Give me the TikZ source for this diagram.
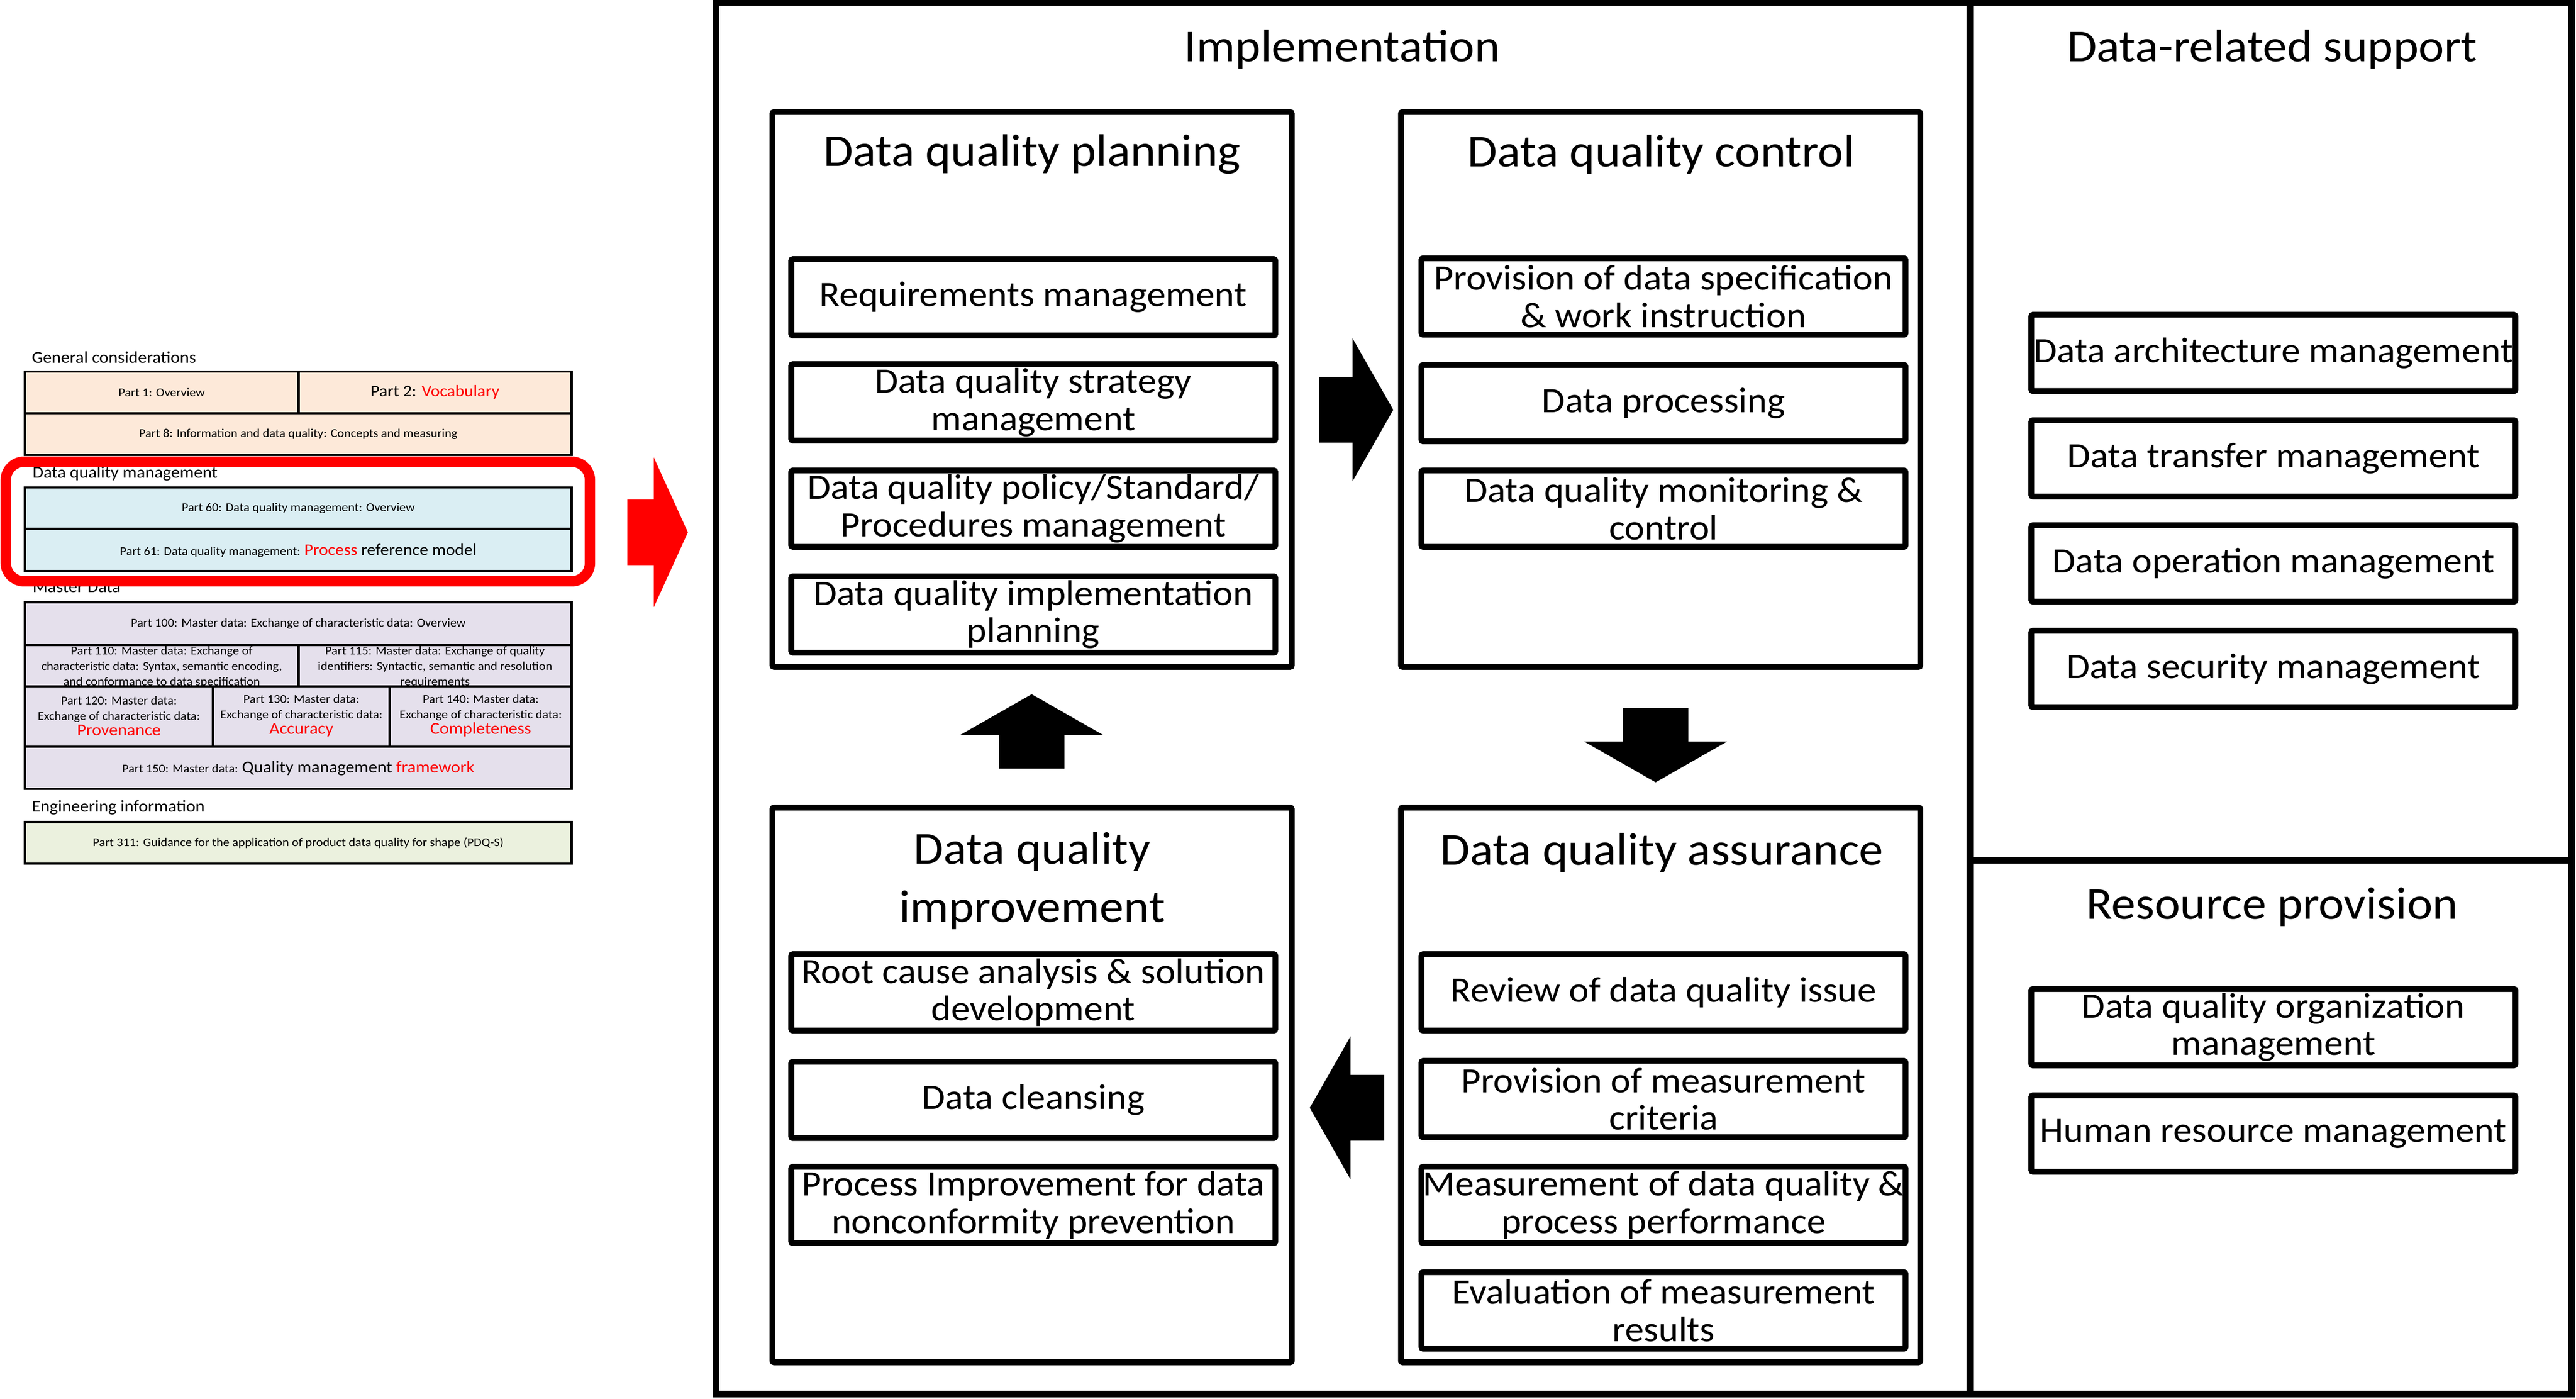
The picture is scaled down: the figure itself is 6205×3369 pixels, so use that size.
\documentclass[tikz,border=0pt]{standalone}
\usepackage{fontspec}
\setmainfont{Carlito}[FakeStretch=1.06]
\usepackage{xcolor}
\usepackage{tikz}
\usetikzlibrary{positioning,calc}
\definecolor{dqred}{RGB}{255,0,0}
\definecolor{genfill}{RGB}{253,233,217}
\definecolor{mgmtfill}{RGB}{218,238,243}
\definecolor{masterfill}{RGB}{229,224,236}
\definecolor{engfill}{RGB}{235,241,222}
\tikzset{
    panel/.style={
        rectangle,
        draw,
        line width=3.5pt,
        rounded corners=1pt,
        minimum width=312.75pt,
        minimum height=334pt
    },
    task/.style={
        rectangle,
        draw,
        line width=3.5pt,
        rounded corners=1pt,
        minimum width=291.5pt,
        minimum height=46pt,
        inner sep=0pt,
        align=center,
        font=\fontsize{21.5}{22.5}\selectfont
    },
    heading/.style={inner sep=0pt, align=center, font=\fontsize{27.5}{35}\selectfont},
    partbox/.style={line width=1.4pt},
    parttext/.style={inner sep=0pt, align=center, font=\fontsize{7.2}{9.3}\selectfont},
    grouplabel/.style={anchor=base west, inner sep=0pt, font=\fontsize{10}{12}\selectfont},
    pics/blockarrow/.style n args={4}{code={
        \fill[pic actions] (0,-#2) -- (#1,-#2) -- (#1,-#3) -- (#4,0) -- (#1,#3) -- (#1,#2) -- (0,#2) -- cycle;
    }}
}
% cells of the overview on the left: x1/y1/x2/y2/fill
\def\partcells{60/895/719/995/genfill, 719/895/1377/995/genfill, 60/995/1377/1096/genfill,
    60/1174/1377/1274/mgmtfill, 60/1274/1377/1375/mgmtfill,
    60/1450/1377/1554/masterfill, 60/1554/719/1653/masterfill, 719/1554/1377/1653/masterfill,
    60/1653/513/1798/masterfill, 513/1653/939/1798/masterfill, 939/1653/1377/1798/masterfill,
    60/1798/1377/1900/masterfill, 60/1980/1377/2080/engfill}

\begin{document}
\begin{tikzpicture}[x=0.25pt, y=-0.25pt]
    \useasboundingbox (0,0) rectangle (6205,3369);

    % overview of the parts
    \foreach \xa/\ya/\xb/\yb/\col in \partcells
        \fill[\col] (\xa,\ya) rectangle (\xb,\yb);

    \node[grouplabel] (gen) at (76,874) {General considerations};
    \node[parttext] (p1) at (389.5,945) {Part 1: Overview};
    \node[parttext, font=\fontsize{9.8}{11}\selectfont] (p2) at (1048,945) {Part 2: \textcolor{dqred}{Vocabulary}};
    \node[parttext] (p8) at (718.5,1045.5) {Part 8: Information and data quality: Concepts and measuring};
    \node[grouplabel] (dqm) at (78,1151) {Data quality management};
    \node[parttext] (p60) at (718.5,1224) {Part 60: Data quality management: Overview};
    \node[parttext] (p61) at (718.5,1326) {Part 61: Data quality management: {\fontsize{9.8}{11}\selectfont\textcolor{dqred}{Process} reference model}};
    \node[grouplabel] (mast) at (78,1427) {Master Data};
    \node[parttext] (p100) at (718.5,1502) {Part 100: Master data: Exchange of characteristic data: Overview};
    \node[parttext] (p110) at (389.5,1606) {Part 110: Master data: Exchange of\\characteristic data: Syntax, semantic encoding,\\and conformance to data specification};
    \node[parttext] (p115) at (1048,1606) {Part 115: Master data: Exchange of quality\\identifiers: Syntactic, semantic and resolution\\requirements};
    \node[parttext] (p120) at (286.5,1724) {Part 120: Master data:\\Exchange of characteristic data:\\{\fontsize{10}{12}\selectfont\textcolor{dqred}{Provenance}}};
    \node[parttext] (p130) at (726,1724) {Part 130: Master data:\\Exchange of characteristic data:\\{\fontsize{10}{12}\selectfont\textcolor{dqred}{Accuracy}}};
    \node[parttext] (p140) at (1158,1724) {Part 140: Master data:\\Exchange of characteristic data:\\{\fontsize{10}{12}\selectfont\textcolor{dqred}{Completeness}}};
    \node[parttext] (p150) at (718.5,1851) {Part 150: Master data: {\fontsize{10}{12}\selectfont Quality management \textcolor{dqred}{framework}}};
    \node[grouplabel] (eng) at (76,1955) {Engineering information};
    \node[parttext] (p311) at (718.5,2030) {Part 311: Guidance for the application of product data quality for shape (PDQ-S)};

    \foreach \xa/\ya/\xb/\yb/\col in \partcells
        \draw[partbox] (\xa,\ya) rectangle (\xb,\yb);

    \draw[dqred, line width=6.25pt, rounded corners=11pt] (14,1112) rectangle (1421,1400);
    \pic[fill=dqred] (toModel) at (1511,1282) {blockarrow={64}{79}{180}{146}};

    % process reference model
    \draw[line width=4pt] (1725,6) rectangle (6194,3357);
    \draw[line width=4pt] (4745,6) -- (4745,3357);
    \draw[line width=4pt] (4745,2072) -- (6194,2072);

    \node[heading] (impl) at (3233,119) {Implementation};
    \node[heading] (supp) at (5473,119) {Data-related support};
    \node[heading] (reso) at (5473,2184) {Resource provision};

    \node[panel] (plan) at (2486,938) {};
    \node[panel] (ctrl) at (4000,938) {};
    \node[panel] (impr) at (2486,2613) {};
    \node[panel] (assu) at (4000,2613) {};

    \node[heading] (planT) at (2486,372) {Data quality planning};
    \node[heading] (ctrlT) at (4001,372) {Data quality control};
    \node[heading] (imprT) at (2486,2121) {Data quality\\improvement};
    \node[heading] (assuT) at (4003,2054) {Data quality assurance};

    \foreach \y/\t [count=\i] in {716/{Requirements management}, 969/{Data quality strategy\\management},
        1225/{Data quality policy/Standard/\\Procedures management}, 1480/{Data quality implementation\\planning}}
        \node[task] (plan\i) at (2489,\y) {\t};
    \foreach \y/\t [count=\i] in {714/{Provision of data specification\\\& work instruction}, 971/{Data processing},
        1225/{Data quality monitoring \&\\control}}
        \node[task] (ctrl\i) at (4007,\y) {\t};
    \foreach \y/\t [count=\i] in {2390/{Root cause analysis \& solution\\development}, 2649/{Data cleansing},
        2902/{Process Improvement for data\\nonconformity prevention}}
        \node[task] (impr\i) at (2489,\y) {\t};
    \foreach \y/\t [count=\i] in {2390/{Review of data quality issue}, 2647/{Provision of measurement\\criteria},
        2902/{Measurement of data quality \&\\process performance}, 3156/{Evaluation of measurement\\results}}
        \node[task] (assu\i) at (4007,\y) {\t};
    \foreach \y/\t [count=\i] in {850/{Data architecture management}, 1104/{Data transfer management},
        1357/{Data operation management}, 1611/{Data security management}}
        \node[task] (supp\i) at (5476,\y) {\t};
    \foreach \y/\t [count=\i] in {2474/{Data quality organization\\management}, 2730/{Human resource management}}
        \node[task] (reso\i) at (5476,\y) {\t};

    % cycle between the four panels
    \pic (toCtrl) at (3177,987) {blockarrow={81}{79}{172}{179}};
    \pic[rotate=-90] (toAssu) at (3988,1705) {blockarrow={81}{79}{172}{179}};
    \pic[rotate=180] (toImpr) at (3334,2668) {blockarrow={81}{79}{172}{179}};
    \pic[rotate=90] (toPlan) at (2485,1851) {blockarrow={81}{79}{172}{179}};
\end{tikzpicture}
\end{document}
